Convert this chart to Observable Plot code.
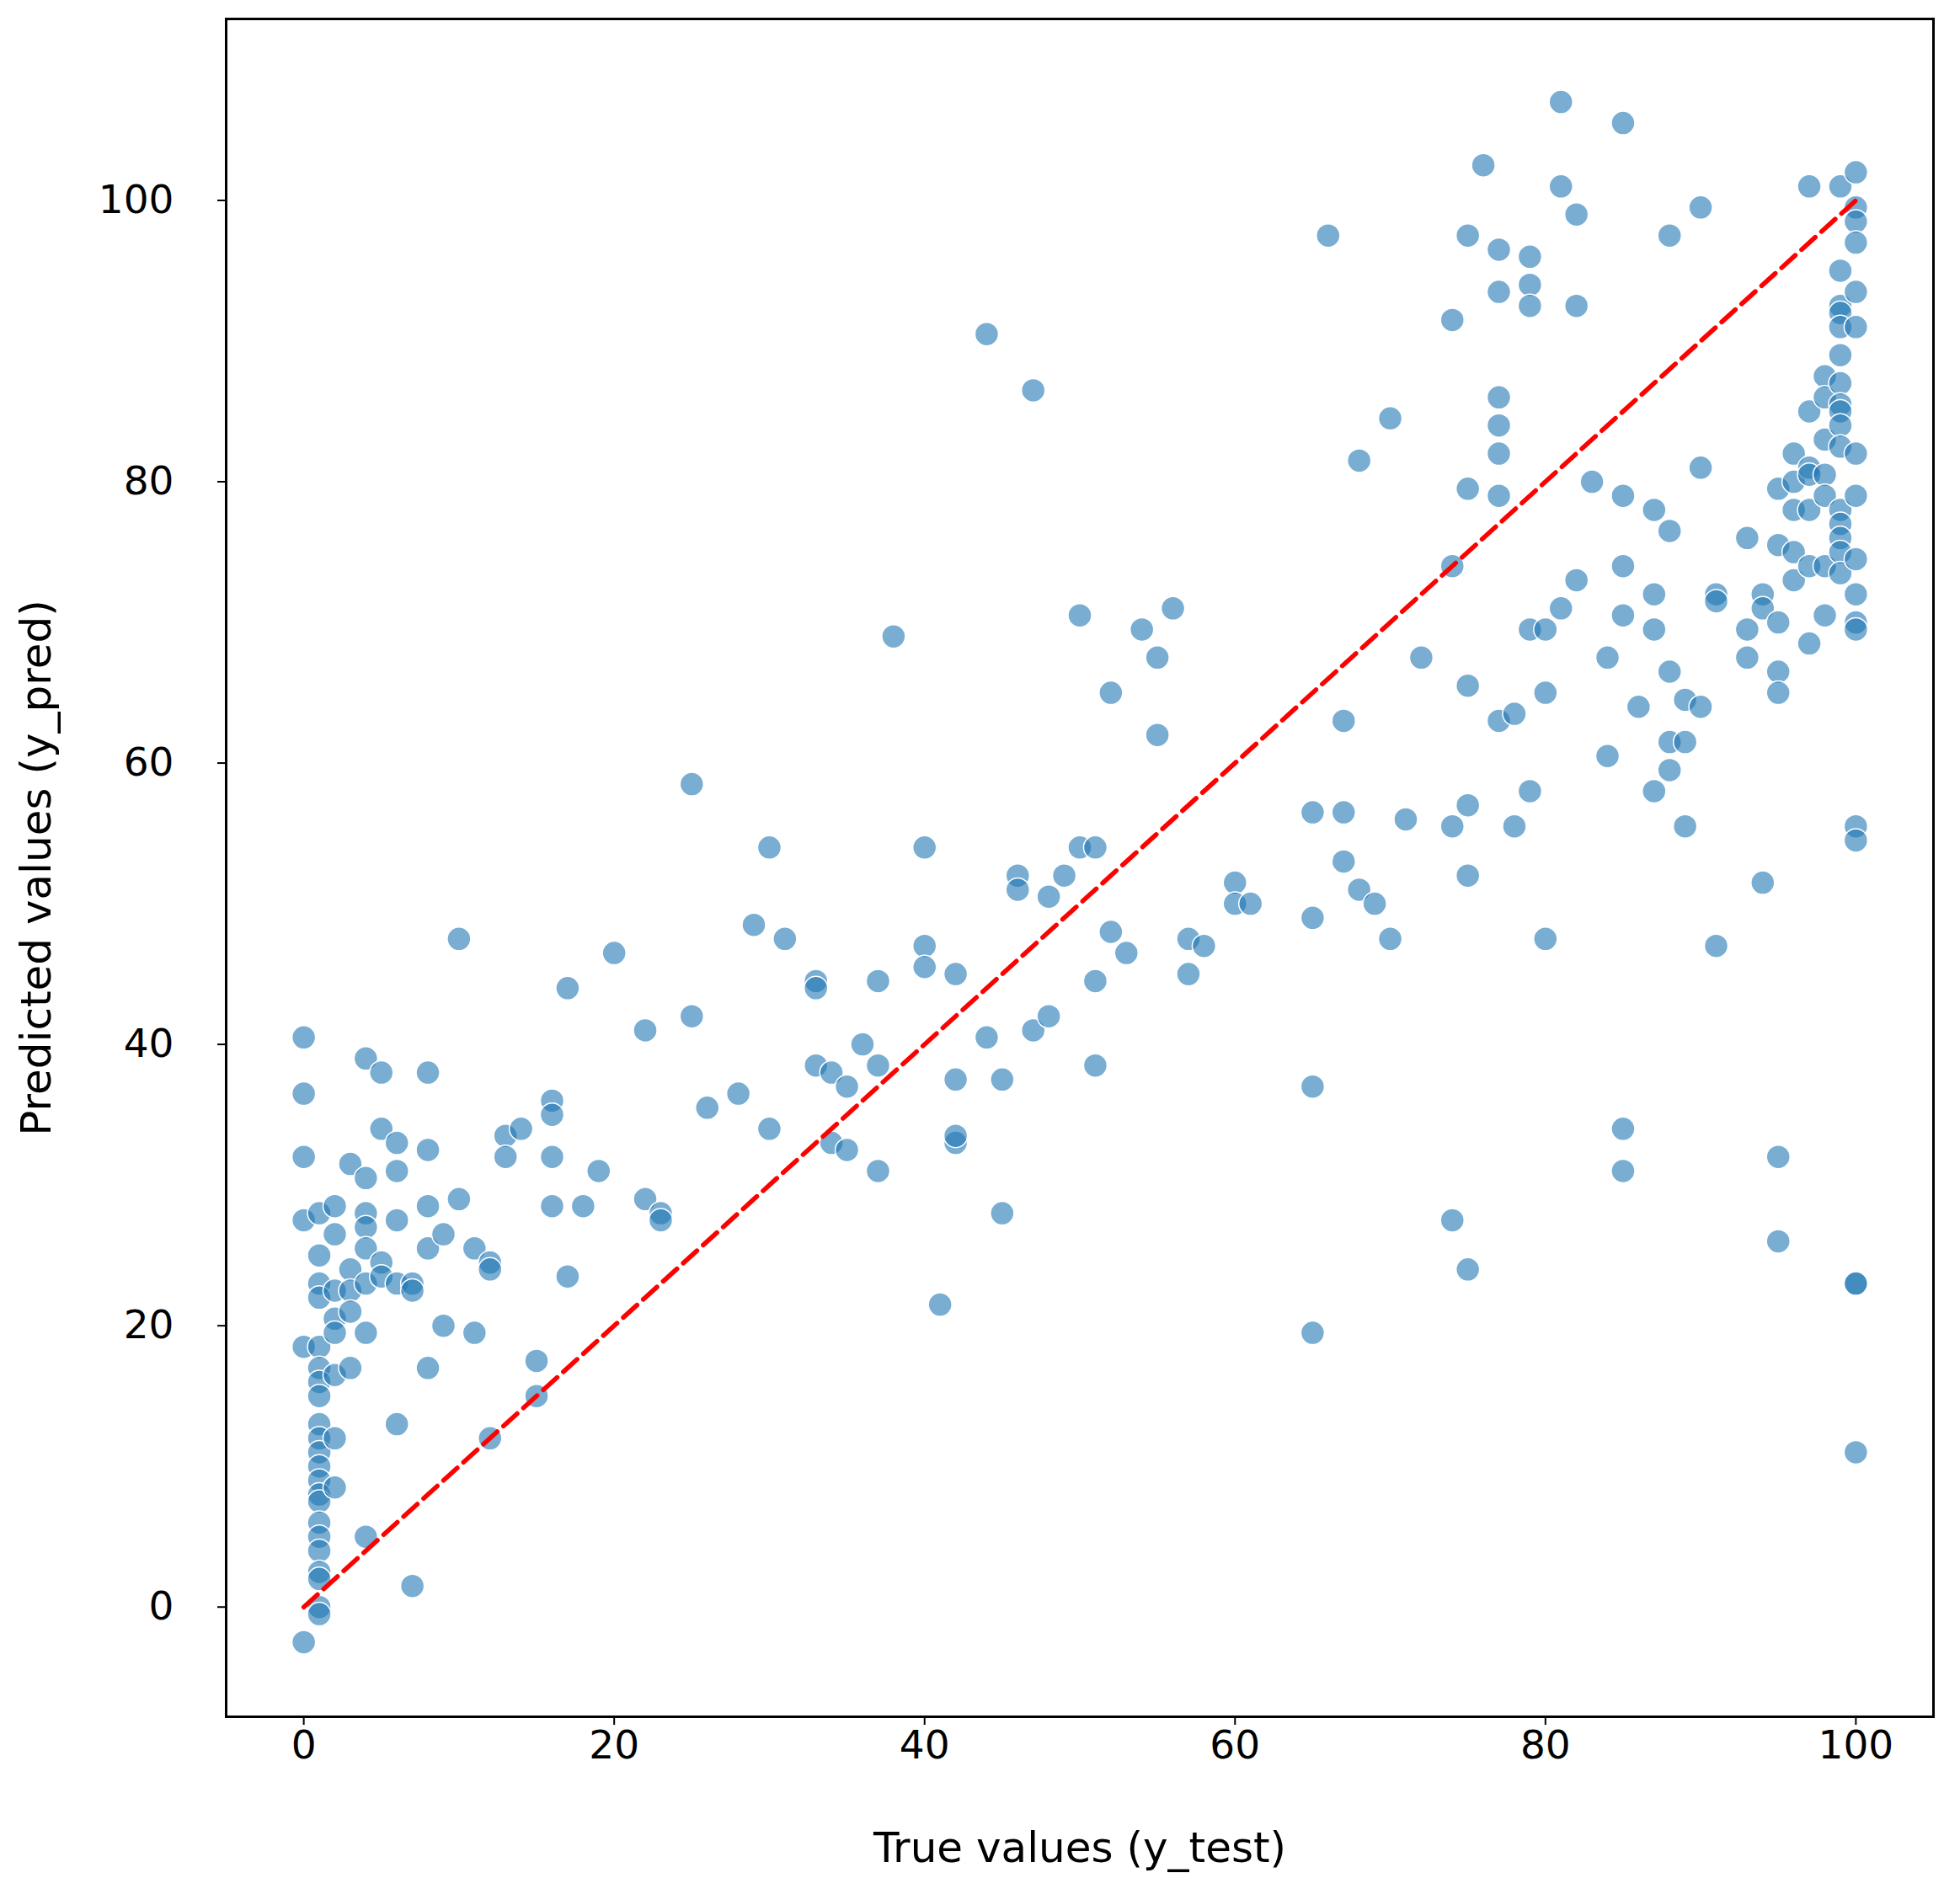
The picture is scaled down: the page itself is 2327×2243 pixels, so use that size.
<!DOCTYPE html>
<html><head><meta charset="utf-8">
<script src="https://cdn.jsdelivr.net/npm/d3@7"></script>
<script src="https://cdn.jsdelivr.net/npm/@observablehq/plot@0.6"></script>
<style>body{margin:0;background:#fff}</style>
</head><body><div id="chart"></div>
<script>
const xTrue = [0,0,0,0,0,0,1,1,1,1,1,1,1,1,1,1,1,1,1,1,1,1,1,1,1,1,1,1,2,2,2,2,2,2,2,2,3,3,3,3,3,4,4,4,4,4,4,4,4,5,5,5,5,6,6,6,6,6,7,7,7,8,8,8,8,8,9,9,10,10,11,11,12,12,12,13,13,14,15,15,16,16,16,16,17,17,18,19,20,22,22,23,23,25,25,26,28,29,30,30,31,33,33,33,34,34,35,35,36,37,37,37,38,40,40,40,41,42,42,42,42,44,44,45,45,46,46,47,47,48,48,49,50,50,51,51,51,52,52,53,54,55,55,56,57,57,58,60,60,61,65,65,65,65,66,67,67,67,68,68,69,70,70,71,72,74,74,74,74,75,75,75,75,75,75,76,77,77,77,77,77,77,77,78,78,79,79,79,79,79,80,80,80,81,81,81,82,82,82,83,84,84,85,85,85,85,85,85,86,87,87,87,87,88,88,88,88,88,89,89,89,90,90,90,91,91,91,93,93,93,94,94,94,95,95,95,95,95,95,95,96,96,96,96,96,97,97,97,97,97,97,97,98,98,98,98,98,98,98,99,99,99,99,99,99,99,99,99,99,99,99,99,99,99,99,100,100,100,100,100,100,100,100,100,100,100,100,100,100,100,100,100];
const yPred = [40.5,36.5,32,27.5,18.5,-2.5,28,25,23,22,18.5,17,16,15,13,12,11,10,9,8,7.5,6,5,4,2.5,2,0,-0.5,28.5,26.5,22.5,20.5,19.5,16.5,12,8.5,31.5,24,22.5,21,17,39,30.5,28,27,25.5,23,19.5,5,38,34,24.5,23.5,33,31,27.5,23,13,23,22.5,1.5,38,32.5,28.5,25.5,17,26.5,20,47.5,29,25.5,19.5,24.5,24,12,33.5,32,34,17.5,15,36,35,32,28.5,44,23.5,28.5,31,46.5,41,29,28,27.5,58.5,42,35.5,36.5,48.5,54,34,47.5,44.5,44,38.5,38,33,37,32.5,40,44.5,38.5,31,69,54,47,45.5,21.5,45,37.5,33,33.5,90.5,40.5,37.5,28,52,51,86.5,41,50.5,42,52,70.5,54,54,44.5,38.5,65,48,46.5,69.5,67.5,62,71,47.5,45,47,51.5,50,50,56.5,49,37,19.5,97.5,63,56.5,53,81.5,51,50,84.5,47.5,56,67.5,91.5,74,55.5,27.5,97.5,79.5,65.5,57,52,24,102.5,96.5,93.5,86,84,82,79,63,63.5,55.5,96,94,92.5,69.5,58,69.5,65,47.5,101,107,71,99,92.5,73,80,67.5,60.5,105.5,79,74,70.5,34,31,64,78,72,69.5,58,97.5,76.5,66.5,61.5,59.5,64.5,61.5,55.5,99.5,81,64,72,71.5,47,76,69.5,67.5,72,71,51.5,79.5,75.5,70,66.5,65,32,26,82,80,78,75,73,101,85,81,80.5,78,74,68.5,87.5,86,83,80.5,79,74,70.5,101,95,92.5,92,91,89,87,85.5,85,84,82.5,78,77,76,75,73.5,102,99.5,98.5,97,93.5,91,82,79,74.5,72,70,69.5,55.5,54.5,23,23,11];
const xTicks = [0,20,40,60,80,100];
const yTicks = [0,20,40,60,80,100];
const xLabel = "True values (y_test)";
const yLabel = "Predicted values (y_pred)";
const pts = xTrue.map((x,i)=>({x, y:yPred[i]}));
const ref = [{x:0,y:0},{x:100,y:100}];

const chart = Plot.plot({
  width: 2327, height: 2243,
  marginLeft: 268, marginRight: 32, marginTop: 22, marginBottom: 205,
  style: {fontFamily: "DejaVu Sans", fontSize: "47px", color: "#000", background: "#fff"},
  x: {domain: [-5, 105]},
  y: {domain: [-7.8, 112.9]},
  marks: [
    Plot.axisX({ticks: xTicks, tickSize: 10, tickPadding: 6, strokeWidth: 2, label: null}),
    Plot.axisY({ticks: yTicks, tickSize: 10, tickPadding: 52, strokeWidth: 2, label: null}),
    Plot.text([xLabel], {text: d => d, frameAnchor: "bottom", dy: 172, fontSize: 50}),
    Plot.text([yLabel], {text: d => d, frameAnchor: "left", textAnchor: "middle", dx: -225, rotate: -90, fontSize: 50}),
    Plot.dot(pts, {x: "x", y: "y", r: 14, fill: "#1f77b4", fillOpacity: 0.6, stroke: "#fff", strokeWidth: 1.5}),
    Plot.line(ref, {x: "x", y: "y", stroke: "red", strokeWidth: 5.5, strokeDasharray: "22,10"}),
    Plot.frame({stroke: "#000", strokeWidth: 3})
  ]
});
document.getElementById("chart").append(chart);
</script></body></html>
